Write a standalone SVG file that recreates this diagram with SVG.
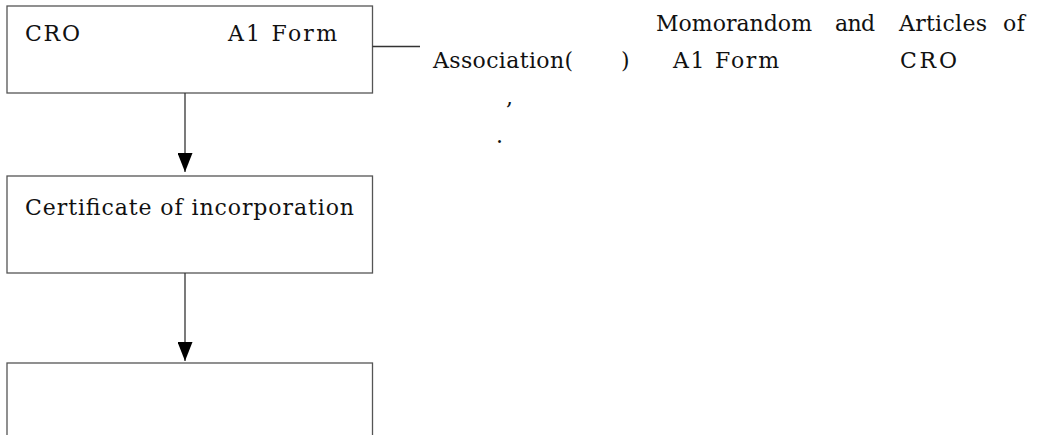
<svg xmlns="http://www.w3.org/2000/svg" width="1040" height="435" viewBox="0 0 1040 435">
<defs>
<style>
.box{fill:#fff;stroke:#555;stroke-width:1.3}
text{font-family:"DejaVu Serif","Liberation Serif",serif;font-size:22px;fill:#111}
.con{stroke:#333;stroke-width:1.3;fill:none}
</style>
<marker id="ah" markerWidth="19" markerHeight="15" refX="19" refY="7.5" orient="auto" markerUnits="userSpaceOnUse" viewBox="0 0 19 15">
<path d="M0,0 L19,7.5 L0,15 Z" fill="#000"/>
</marker>
</defs>
<rect width="1040" height="435" fill="#fff"/>
<g id="node-cro">
<rect class="box" x="7" y="6" width="365.5" height="87"/>
<text x="25" y="41" textLength="55" lengthAdjust="spacing">CRO</text>
<text x="228" y="41" textLength="109" lengthAdjust="spacing">A1 Form</text>
</g>
<g id="node-certificate">
<rect class="box" x="7" y="176" width="365.5" height="97"/>
<text x="25" y="215" textLength="329" lengthAdjust="spacing">Certificate of incorporation</text>
</g>
<g id="node-third">
<rect class="box" x="7" y="363" width="365.5" height="90"/>
</g>
<g id="note">
<text y="31"><tspan x="656" textLength="156" lengthAdjust="spacing">Momorandom</tspan><tspan x="835" textLength="40" lengthAdjust="spacing">and</tspan><tspan x="899" textLength="88" lengthAdjust="spacing">Articles</tspan><tspan x="1003" textLength="22" lengthAdjust="spacing">of</tspan></text>
<text y="68"><tspan x="433" textLength="140" lengthAdjust="spacing">Association(</tspan><tspan x="621">)</tspan><tspan x="673" textLength="106" lengthAdjust="spacing">A1 Form</tspan><tspan x="900" textLength="57" lengthAdjust="spacing">CRO</tspan></text>
<text x="506" y="105">,</text>
<text x="496" y="143">.</text>
</g>
<g id="connectors">
<line class="con" x1="372.5" y1="46.5" x2="420" y2="46.5"/>
<line class="con" x1="185" y1="93" x2="185" y2="172" marker-end="url(#ah)"/>
<line class="con" x1="185" y1="273" x2="185" y2="361" marker-end="url(#ah)"/>
</g>
</svg>
